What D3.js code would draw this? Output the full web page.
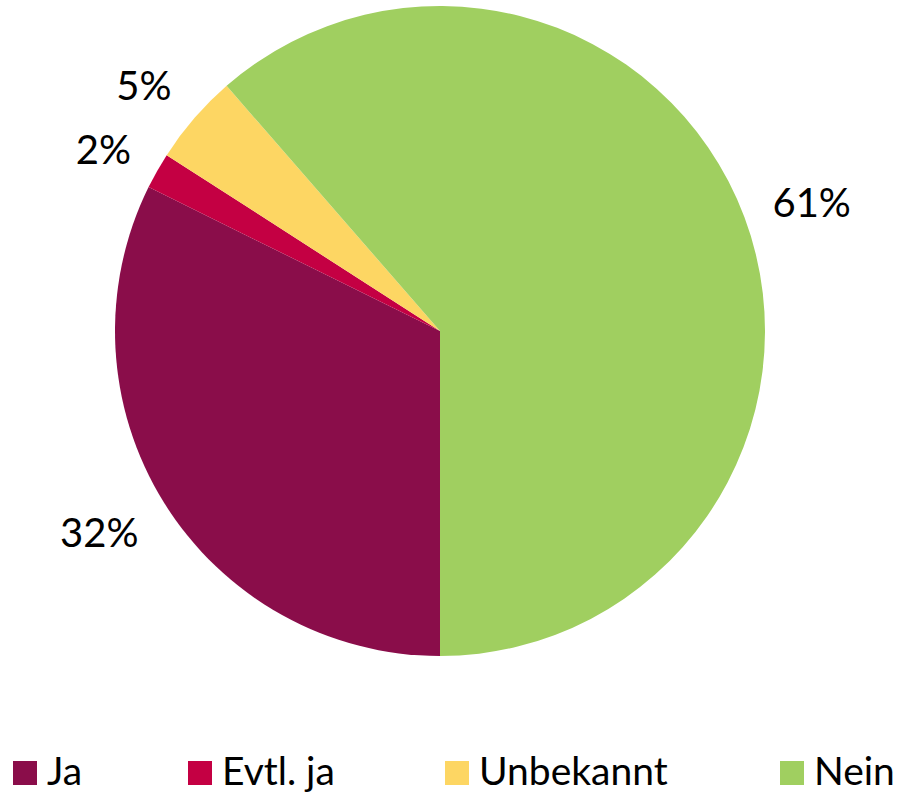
<!DOCTYPE html>
<html lang="de">
<head>
  <meta charset="UTF-8">
  <title>Pie</title>
  <style>
    body { margin: 0; background: #fff; }
    svg text { font-family: Lato, "Noto Sans", sans-serif; fill: #000; }
  </style>
</head>
<body>
<svg id="chart" width="899" height="792"></svg>
<script src="https://d3js.org/d3.v7.min.js"></script>
<script>
  // values (percent)
  const categories = ["Ja", "Evtl. ja", "Unbekannt", "Nein"];
  const values = [32.3, 1.8, 4.5, 61.4];
  const labels = ["32%", "2%", "5%", "61%"];
  const colors = ["#8a0d4a", "#c40043", "#fdd663", "#a0cf60"];

  const svg = d3.select("#chart"),
    cx = 440, cy = 331, radius = 325,
    labelRx = 355, labelRy = 376, minGap = 64;

  const color = d3.scaleOrdinal().domain(categories).range(colors);

  // slices start at 6 o'clock and run clockwise
  const pie = d3.pie()
    .sort(null)
    .startAngle(Math.PI)
    .endAngle(3 * Math.PI)
    .value(d => d.value);

  const data = categories.map((c, i) => ({ name: c, value: values[i], label: labels[i] }));
  const arcs = pie(data);

  const arc = d3.arc().innerRadius(0).outerRadius(radius);

  const g = svg.append("g").attr("transform", `translate(${cx},${cy})`);

  g.selectAll("path")
    .data(arcs)
    .join("path")
    .attr("d", arc)
    .attr("fill", d => color(d.data.name));

  // label spots on an ellipse round the pie, anchored towards the pie
  arcs.forEach(d => {
    const a = (d.startAngle + d.endAngle) / 2;
    d.lx = labelRx * Math.sin(a);
    d.ly = -labelRy * Math.cos(a);
    d.side = Math.sin(a) < 0 ? "end" : "start";
  });
  // push crowded labels apart on each side
  ["start", "end"].forEach(side => {
    const s = arcs.filter(d => d.side === side).sort((a, b) => b.ly - a.ly);
    for (let i = 1; i < s.length; i++) {
      if (s[i - 1].ly - s[i].ly < minGap) s[i].ly = s[i - 1].ly - minGap;
    }
  });

  g.selectAll("text")
    .data(arcs)
    .join("text")
    .attr("x", d => d.lx)
    .attr("y", d => d.ly)
    .attr("text-anchor", d => d.side)
    .attr("dy", "0.45em")
    .attr("font-size", 40)
    .text(d => d.data.label);

  // legend along the bottom
  const legendX = [13, 188, 445, 780];
  const legend = svg.append("g").attr("transform", "translate(0,761)");
  const item = legend.selectAll("g")
    .data(categories)
    .join("g")
    .attr("transform", (d, i) => `translate(${legendX[i]},0)`);

  item.append("rect")
    .attr("width", 24)
    .attr("height", 24)
    .attr("fill", d => color(d));

  item.append("text")
    .attr("x", 34)
    .attr("y", 24)
    .attr("font-size", 39)
    .text(d => d);
</script>
</body>
</html>
